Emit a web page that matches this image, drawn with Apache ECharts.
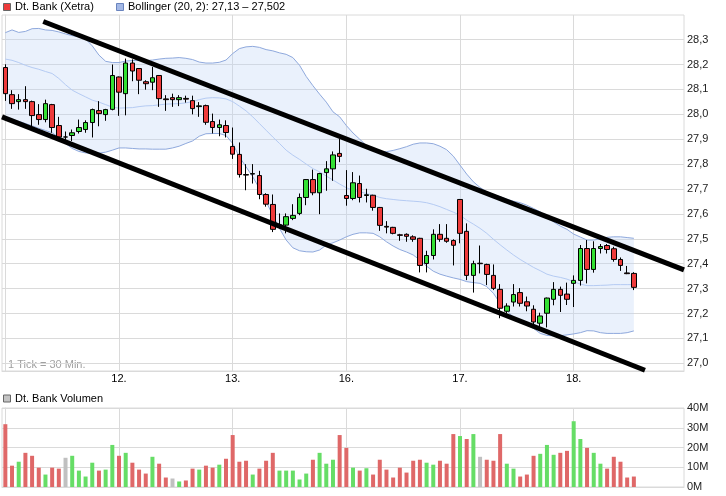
<!DOCTYPE html>
<html><head><meta charset="utf-8">
<script src="https://cdn.jsdelivr.net/npm/echarts@6/dist/echarts.min.js"></script>
<style>html,body{margin:0;padding:0;background:#fff}#c{width:726px;height:496px}</style>
</head><body><div id="c"></div>
<script>
// ---- data ----
const days = ['11.','12.','13.','16.','17.','18.'];
const slots = ['09:00','09:30','10:00','10:30','11:00','11:30','12:00','12:30','13:00','13:30','14:00','14:30','15:00','15:30','16:00','16:30','17:00'];
const open = [28.188,28.079,28.051,28.059,28.051,27.999,27.979,28.039,27.955,27.909,
27.915,27.931,27.939,27.967,28.015,27.999,28.020,28.150,28.083,28.206,
28.184,28.131,28.129,28.156,28.062,28.067,28.059,28.064,28.055,28.031,
28.035,27.971,27.947,27.955,27.871,27.839,27.758,27.760,27.754,27.678,
27.638,27.551,27.555,27.582,27.602,27.666,27.738,27.685,27.766,27.781,
27.843,27.674,27.662,27.722,27.674,27.675,27.626,27.550,27.546,27.516,
27.518,27.508,27.502,27.401,27.433,27.518,27.502,27.493,27.658,27.530,
27.353,27.402,27.397,27.353,27.297,27.209,27.246,27.284,27.247,27.217,
27.161,27.201,27.257,27.297,27.278,27.321,27.333,27.461,27.377,27.461,
27.473,27.460,27.417,27.363,27.361];
const high = [28.201,28.097,28.081,28.113,28.055,28.041,28.059,28.042,27.990,27.931,
27.939,27.979,27.976,28.023,28.053,28.022,28.200,28.152,28.224,28.221,
28.186,28.137,28.190,28.158,28.077,28.083,28.077,28.075,28.075,28.049,
28.039,28.003,27.979,27.976,27.947,27.887,27.800,27.800,27.773,27.683,
27.678,27.602,27.602,27.639,27.682,27.740,27.778,27.765,27.812,27.851,
27.901,27.776,27.768,27.754,27.701,27.677,27.628,27.571,27.548,27.520,
27.522,27.514,27.504,27.452,27.538,27.559,27.559,27.498,27.660,27.562,
27.412,27.473,27.400,27.397,27.318,27.241,27.318,27.302,27.268,27.233,
27.203,27.264,27.326,27.308,27.324,27.353,27.475,27.495,27.490,27.479,
27.479,27.468,27.425,27.391,27.366];
const low = [28.054,28.022,28.019,28.022,27.952,27.958,27.968,27.926,27.901,27.893,
27.893,27.923,27.926,27.907,27.952,27.974,28.016,27.994,27.996,28.133,
28.081,28.099,28.097,28.030,28.014,28.030,28.033,28.047,28.000,27.990,
27.958,27.923,27.912,27.907,27.821,27.746,27.695,27.722,27.659,27.629,
27.527,27.541,27.522,27.575,27.595,27.635,27.675,27.599,27.693,27.733,
27.808,27.633,27.655,27.646,27.646,27.613,27.532,27.522,27.518,27.492,
27.488,27.488,27.365,27.365,27.417,27.488,27.484,27.393,27.482,27.334,
27.284,27.361,27.314,27.294,27.181,27.201,27.228,27.228,27.209,27.150,
27.144,27.144,27.233,27.206,27.234,27.226,27.312,27.321,27.364,27.441,
27.441,27.408,27.371,27.358,27.294];
const close = [28.083,28.043,28.059,28.051,27.995,27.979,28.043,27.947,27.909,27.909,
27.926,27.947,27.967,28.019,28.003,28.019,28.156,28.089,28.206,28.174,
28.137,28.123,28.147,28.063,28.059,28.059,28.067,28.061,28.023,28.034,
27.968,27.947,27.958,27.927,27.840,27.758,27.756,27.762,27.678,27.639,
27.538,27.556,27.589,27.594,27.666,27.738,27.685,27.762,27.781,27.837,
27.831,27.662,27.725,27.666,27.677,27.626,27.554,27.547,27.522,27.514,
27.510,27.498,27.393,27.433,27.518,27.498,27.490,27.474,27.522,27.353,
27.400,27.400,27.357,27.301,27.221,27.230,27.276,27.241,27.230,27.166,
27.190,27.262,27.297,27.273,27.257,27.333,27.461,27.377,27.461,27.469,
27.457,27.417,27.393,27.360,27.305];
const bbUpper = [28.328,28.339,28.329,28.333,28.344,28.345,28.339,28.337,28.331,28.323,
28.316,28.312,28.303,28.275,28.238,28.213,28.208,28.208,28.214,28.216,
28.217,28.216,28.218,28.222,28.225,28.226,28.228,28.225,28.220,28.210,
28.206,28.206,28.209,28.218,28.244,28.264,28.271,28.273,28.269,28.260,
28.255,28.247,28.241,28.228,28.197,28.152,28.115,28.081,28.049,28.010,
27.990,27.955,27.925,27.900,27.875,27.858,27.850,27.850,27.855,27.862,
27.870,27.880,27.885,27.885,27.882,27.872,27.858,27.832,27.796,27.760,
27.729,27.706,27.689,27.678,27.669,27.659,27.651,27.645,27.635,27.622,
27.608,27.589,27.568,27.551,27.538,27.519,27.507,27.495,27.495,27.500,
27.506,27.508,27.508,27.505,27.502];
const bbMiddle = [28.222,28.217,28.208,28.197,28.188,28.181,28.172,28.164,28.144,28.119,
28.097,28.083,28.070,28.057,28.049,28.039,28.029,28.025,28.026,28.027,
28.031,28.034,28.035,28.038,28.041,28.042,28.043,28.046,28.051,28.059,
28.065,28.067,28.066,28.062,28.051,28.033,28.014,27.990,27.963,27.936,
27.909,27.883,27.856,27.836,27.819,27.800,27.782,27.769,27.752,27.736,
27.720,27.705,27.695,27.689,27.682,27.675,27.666,27.661,27.658,27.655,
27.653,27.651,27.649,27.645,27.638,27.629,27.618,27.607,27.595,27.575,
27.559,27.542,27.522,27.498,27.476,27.455,27.435,27.417,27.401,27.385,
27.372,27.358,27.350,27.345,27.338,27.328,27.318,27.312,27.312,27.313,
27.314,27.316,27.316,27.316,27.316];
const bbLower = [27.987,27.980,27.972,27.963,27.954,27.944,27.935,27.926,27.907,27.883,
27.863,27.851,27.845,27.843,27.844,27.848,27.856,27.865,27.865,27.863,
27.861,27.861,27.860,27.860,27.860,27.865,27.872,27.883,27.893,27.912,
27.922,27.923,27.923,27.915,27.883,27.829,27.789,27.749,27.702,27.649,
27.595,27.542,27.495,27.464,27.452,27.448,27.447,27.455,27.475,27.484,
27.495,27.508,27.518,27.524,27.524,27.522,27.508,27.488,27.471,27.457,
27.447,27.435,27.415,27.390,27.370,27.358,27.350,27.343,27.337,27.328,
27.324,27.321,27.308,27.281,27.241,27.211,27.185,27.167,27.154,27.140,
27.120,27.112,27.110,27.111,27.114,27.118,27.123,27.131,27.130,27.123,
27.120,27.120,27.120,27.123,27.130];
const volume = [31.8,10.8,12.8,17.3,15.8,9.8,6.3,9.8,9.3,14.8,
15.8,8.3,5.3,12.3,8.3,8.8,21.3,15.8,17.3,12.3,
8.8,6.8,15.3,11.8,4.8,4.3,2.8,3.3,9.3,8.8,
10.8,9.8,11.3,14.3,26.3,12.8,13.3,6.3,9.3,13.3,
17.3,8.3,8.3,8.3,3.8,6.8,13.8,17.3,11.8,13.8,
26.3,19.8,9.8,8.3,9.5,6.3,13.8,8.8,4.8,9.8,
7.3,13.3,13.8,12.3,11.3,13.3,11.8,26.8,25.8,24.3,
26.8,15.3,13.8,13.3,26.8,11.8,9.3,5.3,6.3,15.8,
16.8,21.3,16.3,17.3,18.3,33.3,24.3,19.8,17.3,11.8,
9.3,15.3,12.8,4.8,5.3];
const volDir = ['d','d','u','d','d','d','u','d','d','n',
'u','u','u','u','d','u','u','d','u','d',
'd','d','u','d','d','n','u','d','d','u',
'd','d','u','d','d','d','d','u','d','d',
'd','u','u','u','u','u','d','u','u','u',
'd','d','u','d','u','d','d','d','d','d',
'd','d','d','u','u','d','d','d','u','d',
'u','n','d','d','d','u','u','d','d','d',
'u','u','u','d','d','u','u','d','u','u',
'd','d','d','d','d'];
const priceTicks = [27.0,27.1,27.2,27.3,27.4,27.5,27.6,27.7,27.8,27.9,28.0,28.1,28.2,28.3];
const volTicks = [0,10,20,30,40];
const dayStarts = [0,17,34,51,68,85];
const trendUpper = [[5.67,28.373],[101.5,27.375]];
const trendLower = [[-0.5,27.990],[95.66,26.972]];

// ---- chart ----
const FONT = 'Liberation Sans';
const categories = [];
days.forEach(d => slots.forEach(s => categories.push(d + ' ' + s)));
const ohlc = open.map((o, i) => [o, close[i], low[i], high[i]]);
const bandWidth = bbUpper.map((u, i) => +(u - bbLower[i]).toFixed(4));
const volColors = {u: '#66dd66', d: '#df6868', n: '#c0c0c0'};
const volData = volume.map((v, i) => ({value: v, itemStyle: {color: volColors[volDir[i]]}}));
const grid = '#dadada';

const chart = echarts.init(document.getElementById('c'), null, {renderer: 'canvas'});
chart.setOption({
  animation: false,
  backgroundColor: '#fff',
  textStyle: {fontFamily: FONT},
  grid: [
    {left: 2, top: 15, width: 682, height: 356, show: true, borderColor: grid, borderWidth: 1},
    {left: 2, top: 408, width: 682, height: 79, show: true, borderColor: grid, borderWidth: 1}
  ],
  xAxis: [
    {type: 'category', gridIndex: 0, data: categories, boundaryGap: true,
     axisLine: {show: true, lineStyle: {color: grid}}, axisTick: {show: false},
     axisLabel: {show: false}, splitLine: {show: false}},
    {type: 'value', gridIndex: 0, position: 'bottom', min: -0.5, max: categories.length - 0.5,
     axisLine: {show: false}, axisTick: {show: false, customValues: dayStarts},
     axisLabel: {show: true, customValues: dayStarts.slice(1), margin: 2, fontSize: 11, color: '#000', fontFamily: FONT,
       formatter: v => days[Math.round(v / 17)]},
     splitLine: {show: true, lineStyle: {color: grid}}},
    {type: 'category', gridIndex: 1, data: categories, boundaryGap: true,
     axisLine: {show: true, lineStyle: {color: grid}}, axisTick: {show: false},
     axisLabel: {show: false}, splitLine: {show: false}},
    {type: 'value', gridIndex: 1, position: 'bottom', min: -0.5, max: categories.length - 0.5,
     axisLine: {show: false}, axisTick: {show: false, customValues: dayStarts},
     axisLabel: {show: false},
     splitLine: {show: true, lineStyle: {color: grid}}}
  ],
  yAxis: [
    {type: 'value', gridIndex: 0, position: 'right', min: 26.969, max: 28.399, scale: true,
     axisLine: {show: true, lineStyle: {color: grid}},
     axisTick: {show: false, customValues: priceTicks},
     axisLabel: {customValues: priceTicks, margin: 3, fontSize: 11, color: '#222', fontFamily: FONT,
       formatter: v => v.toFixed(1).replace('.', ',')},
     splitLine: {show: true, lineStyle: {color: grid}}},
    {type: 'value', gridIndex: 1, position: 'right', min: 0, max: 40, interval: 10,
     axisLine: {show: true, lineStyle: {color: grid}}, axisTick: {show: false},
     axisLabel: {margin: 3, fontSize: 11, color: '#222', fontFamily: FONT, formatter: v => v + 'M'},
     splitLine: {show: true, lineStyle: {color: grid}}}
  ],
  series: [
    {type: 'line', xAxisIndex: 0, yAxisIndex: 0, data: bbLower, stack: 'bb', symbol: 'none',
     lineStyle: {opacity: 0}, silent: true, z: 1},
    {type: 'line', xAxisIndex: 0, yAxisIndex: 0, data: bandWidth, stack: 'bb', symbol: 'none',
     lineStyle: {opacity: 0}, areaStyle: {color: 'rgba(190,210,245,0.32)', opacity: 1}, silent: true, z: 1},
    {type: 'line', xAxisIndex: 0, yAxisIndex: 0, data: bbUpper, symbol: 'none',
     lineStyle: {color: '#8fa9dd', width: 1}, silent: true, z: 2},
    {type: 'line', xAxisIndex: 0, yAxisIndex: 0, data: bbLower, symbol: 'none',
     lineStyle: {color: '#8fa9dd', width: 1}, silent: true, z: 2},
    {type: 'line', xAxisIndex: 0, yAxisIndex: 0, data: bbMiddle, symbol: 'none',
     lineStyle: {color: '#b5cbf3', width: 1}, silent: true, z: 2},
    {type: 'candlestick', xAxisIndex: 0, yAxisIndex: 0, data: ohlc, barWidth: 5,
     itemStyle: {color: '#33e033', color0: '#ee3b3b', borderColor: '#000', borderColor0: '#000',
       borderColorDoji: '#000', borderWidth: 1}, z: 3},
    {type: 'line', xAxisIndex: 1, yAxisIndex: 0, data: trendUpper, symbol: 'none', clip: false,
     lineStyle: {color: '#000', width: 5}, silent: true, z: 5},
    {type: 'line', xAxisIndex: 1, yAxisIndex: 0, data: trendLower, symbol: 'none', clip: false,
     lineStyle: {color: '#000', width: 5}, silent: true, z: 5},
    {type: 'bar', xAxisIndex: 2, yAxisIndex: 1, data: volData, barWidth: 4, z: 3}
  ],
  graphic: [
    {type: 'rect', shape: {x: 3.5, y: 3.5, width: 7, height: 7}, style: {fill: '#ee3b3b', stroke: '#666', lineWidth: 1}},
    {type: 'text', x: 15, y: 7, style: {text: 'Dt. Bank (Xetra)', font: '11px "Liberation Sans"', fill: '#000', verticalAlign: 'middle'}},
    {type: 'rect', shape: {x: 116.5, y: 3.5, width: 7, height: 7}, style: {fill: '#a3b8e6', stroke: '#6a84be', lineWidth: 1}},
    {type: 'text', x: 128, y: 7, style: {text: 'Bollinger (20, 2): 27,13 \u2013 27,502', font: '11px "Liberation Sans"', fill: '#000', verticalAlign: 'middle'}},
    {type: 'text', x: 8, y: 365, style: {text: '1 Tick = 30 Min.', font: '11px "Liberation Sans"', fill: '#a0a0a0', verticalAlign: 'middle'}},
    {type: 'rect', shape: {x: 3.5, y: 395, width: 7, height: 7}, style: {fill: '#c4c4c4', stroke: '#666', lineWidth: 1}},
    {type: 'text', x: 15, y: 398.5, style: {text: 'Dt. Bank Volumen', font: '11px "Liberation Sans"', fill: '#000', verticalAlign: 'middle'}}
  ]
});
</script>
</body></html>
